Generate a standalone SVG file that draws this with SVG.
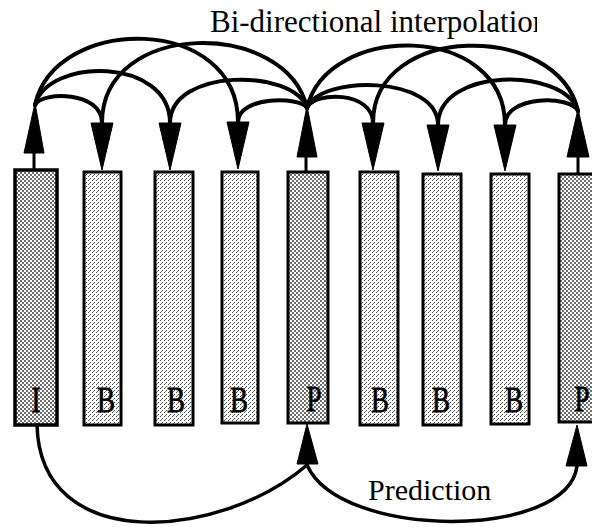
<svg xmlns="http://www.w3.org/2000/svg" width="592" height="527" viewBox="0 0 592 527">
  <style>
    .frame { stroke: #000; stroke-width: 3; }
    .ref { fill: url(#dotsDark); }
    .bi { fill: url(#dotsLight); }
    .lbl { font-family: "Liberation Serif", "Times New Roman", serif; font-size: 27px; fill: #000; stroke: #000; stroke-width: 0.6; text-anchor: middle; }
    .cap { font-family: "Liberation Serif", "Times New Roman", serif; font-size: 31px; fill: #000; }
    .arc { fill: none; stroke: #000; stroke-width: 4; stroke-linecap: round; }
    .pred { fill: none; stroke: #000; stroke-width: 3.5; stroke-linecap: round; }
    .head { fill: #000; stroke: #000; stroke-width: 1; stroke-linejoin: miter; }
    .stem { stroke: #000; stroke-width: 3; }
  </style>
  <defs>
    <!-- halftone screens for the frame bars -->
    <pattern id="dotsDark" width="4" height="4" patternUnits="userSpaceOnUse">
      <rect width="4" height="4" fill="#fff"/>
      <rect x="0" y="0" width="2" height="2" fill="#6e6e6e"/>
      <rect x="2" y="2" width="2" height="2" fill="#6e6e6e"/>
    </pattern>
    <pattern id="dotsLight" width="4" height="4" patternUnits="userSpaceOnUse">
      <rect width="4" height="4" fill="#fff"/>
      <rect x="0" y="0" width="1" height="1" fill="#444"/>
      <rect x="2" y="2" width="1" height="1" fill="#444"/>
      <rect x="1" y="3" width="1" height="1" fill="#777"/>
    </pattern>
    <clipPath id="titleClip">
      <rect x="0" y="0" width="537" height="60"/>
    </clipPath>
  </defs>

  <rect width="592" height="527" fill="#fff"/>

  <!-- captions -->
  <text class="cap" x="210" y="32" clip-path="url(#titleClip)">Bi-directional interpolation</text>
  <text class="cap" x="368" y="500" style="font-size:30px">Prediction</text>

  <!-- frames -->
  <g id="frame-I">
    <rect class="frame ref" x="15" y="170" width="42" height="255" style="stroke-width:3.5"/>
    <text class="lbl" transform="translate(36,412) scale(1,1.3)">I</text>
  </g>
  <g id="frame-B1">
    <rect class="frame bi" x="84" y="172" width="37" height="253"/>
    <text class="lbl" transform="translate(106,412) scale(1,1.3)">B</text>
  </g>
  <g id="frame-B2">
    <rect class="frame bi" x="155" y="172" width="38" height="253"/>
    <text class="lbl" transform="translate(176,412) scale(1,1.3)">B</text>
  </g>
  <g id="frame-B3">
    <rect class="frame bi" x="222" y="172" width="36" height="251"/>
    <text class="lbl" transform="translate(239,412) scale(1,1.3)">B</text>
  </g>
  <g id="frame-P1">
    <rect class="frame ref" x="288" y="172" width="40" height="251"/>
    <text class="lbl" transform="translate(314,411) scale(1,1.3)">P</text>
  </g>
  <g id="frame-B4">
    <rect class="frame bi" x="360" y="172" width="38" height="253"/>
    <text class="lbl" transform="translate(380,412) scale(1,1.3)">B</text>
  </g>
  <g id="frame-B5">
    <rect class="frame bi" x="423" y="174" width="38" height="251"/>
    <text class="lbl" transform="translate(441,412) scale(1,1.3)">B</text>
  </g>
  <g id="frame-B6">
    <rect class="frame bi" x="491" y="174" width="38" height="250"/>
    <text class="lbl" transform="translate(514,412) scale(1,1.3)">B</text>
  </g>
  <g id="frame-P2">
    <rect class="frame ref" x="559" y="174" width="42" height="248"/>
    <text class="lbl" transform="translate(582,411) scale(1,1.3)">P</text>
  </g>

  <g id="connectors">
    <!-- interpolation arcs from I -->
    <path class="arc" d="M35,105 C42,91 102,91 102,123"/>
    <path class="arc" d="M35,105 C48,57 170,57 170,123"/>
    <path class="arc" d="M35,105 C55,14 238,14 238,122"/>
    <!-- interpolation arcs from the first P -->
    <path class="arc" d="M307,108 C287,19 102,19 102,123"/>
    <path class="arc" d="M307,108 C293,68 170,68 170,123"/>
    <path class="arc" d="M307,108 C300,96 238,96 238,122"/>
    <path class="arc" d="M307,108 C314,91 373,91 373,123"/>
    <path class="arc" d="M307,108 C320,75 438,75 438,125"/>
    <path class="arc" d="M307,108 C327,22 505,22 505,125"/>
    <!-- interpolation arcs from the second P -->
    <path class="arc" d="M578,111 C558,22 373,22 373,123"/>
    <path class="arc" d="M578,111 C564,67 438,67 438,125"/>
    <path class="arc" d="M578,111 C571,95 505,95 505,125"/>

    <!-- arrowheads into B frames -->
    <polygon class="head" points="91,123 113,123 102,170"/>
    <polygon class="head" points="159,123 181,123 170,170"/>
    <polygon class="head" points="227,122 249,122 238,169"/>
    <polygon class="head" points="362,123 384,123 373,170"/>
    <polygon class="head" points="427,125 449,125 438,171"/>
    <polygon class="head" points="494,125 516,125 505,171"/>

    <!-- up arrows on the reference frames -->
    <line class="stem" x1="34" y1="152" x2="34" y2="170"/>
    <polygon class="head" points="24,153 44,153 35,103"/>
    <line class="stem" x1="306" y1="156" x2="306" y2="172"/>
    <polygon class="head" points="297,157 317,157 307,106"/>
    <line class="stem" x1="578" y1="156" x2="578" y2="174"/>
    <polygon class="head" points="567,157 589,157 578,109"/>

    <!-- prediction arcs -->
    <path class="pred" d="M37,425 C40,555 220,540 307,465"/>
    <path class="pred" d="M307,465 C340,540 568,540 577,466"/>
    <polygon class="head" points="297,464 318,464 307,424"/>
    <polygon class="head" points="566,466 587,466 577,425"/>
  </g>
</svg>
